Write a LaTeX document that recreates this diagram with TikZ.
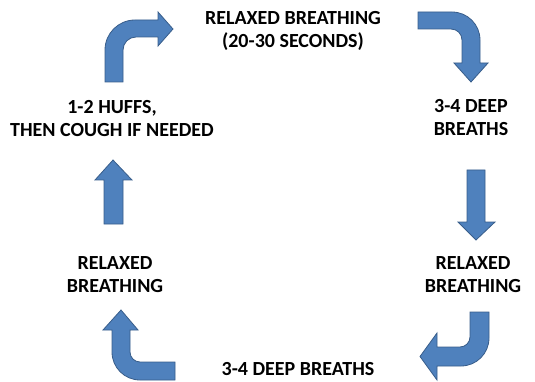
\documentclass[tikz,border=0pt]{standalone}
\usepackage{fontspec}
\setmainfont{Carlito}
\definecolor{arrowfill}{HTML}{4F81BD}
\definecolor{arrowline}{HTML}{385D8A}
\tikzset{
  blockarrow/.style={fill=arrowfill, draw=arrowline, line width=0.8pt, line join=miter},
  steptext/.style={font=\bfseries\fontsize{20}{23}\selectfont, align=center, anchor=base, inner sep=0pt}
}
\begin{document}
\begin{tikzpicture}[x=1pt,y=-1pt]
\useasboundingbox (0,0) rectangle (535,382);
% two-line texts: base is the second line
\node[steptext] (relaxedtop) at (293,48) {RELAXED BREATHING\\(20-30 SECONDS)};
\node[steptext] (deepright) at (471,136) {3-4 DEEP\\BREATHS};
\node[steptext] (relaxedright) at (473,292) {RELAXED\\BREATHING};
\node[steptext] (deepbottom) at (298,375) {3-4 DEEP BREATHS};
\node[steptext] (relaxedleft) at (115,292) {RELAXED\\BREATHING};
\node[steptext] (huffs) at (112,137) {1-2 HUFFS,\\THEN COUGH IF NEEDED};
% bent arrow, up then right
\draw[blockarrow] (105,82) -- (105,50) .. controls (105,33.4) and (118.4,20) .. (135,20)
  -- (158,20) -- (158,12) -- (173,29) -- (158,46) -- (158,37) -- (136,37)
  .. controls (128.8,37) and (123,42.8) .. (123,50) -- (123,82) -- cycle;
% bent arrow, right then down
\draw[blockarrow] (418,12) -- (452,12) .. controls (467.5,12) and (480,24.5) .. (480,40)
  -- (480,63) -- (488,63) -- (471,82) -- (454,63) -- (462,63) -- (462,40)
  .. controls (462,33.9) and (457.1,29) .. (451,29) -- (418,29) -- cycle;
% straight arrow, down
\draw[blockarrow] (467,170) -- (485,170) -- (485,222) -- (495,222) -- (476,240)
  -- (458,222) -- (467,222) -- cycle;
% bent arrow, down then left
\draw[blockarrow] (470,312) -- (489,312) -- (489,338) .. controls (489,353.5) and (476.5,366) .. (461,366)
  -- (437,366) -- (437,380) -- (420,356.5) -- (437,333) -- (437,347) -- (460,347)
  .. controls (465.5,347) and (470,342.5) .. (470,337) -- cycle;
% bent arrow, left then up
\draw[blockarrow] (175,362) -- (140,362) .. controls (134.5,362) and (130,357.5) .. (130,352)
  -- (130,330) -- (138,330) -- (121,310) -- (103,330) -- (112,330) -- (112,352)
  .. controls (112,367.5) and (124.5,380) .. (140,380) -- (175,380) -- cycle;
% straight arrow, up
\draw[blockarrow] (104,224) -- (104,180) -- (95,180) -- (113,160) -- (132,180)
  -- (123,180) -- (123,224) -- cycle;
\end{tikzpicture}
\end{document}
